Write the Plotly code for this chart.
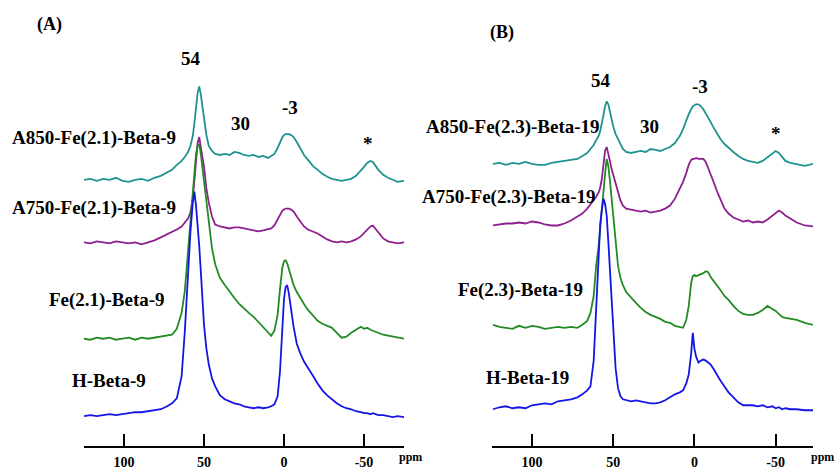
import plotly.graph_objects as go

# ---------------- data (ppm grid and relative intensities) ----------------
ppm_a = [125, 121, 117, 113, 109, 105, 101, 97, 93, 89,
         85, 81, 77, 73, 70, 67, 64, 62, 60, 58.5,
         57, 56, 55, 54, 53, 52, 51, 50, 48.5, 47,
         45, 43, 40, 37, 34, 31, 28, 25, 22, 19,
         16, 13, 10, 8, 6, 4, 2.5, 1, 0, -1,
         -2, -3, -4.5, -6, -8, -10, -12.5, -15, -18, -21,
         -24, -27, -30, -33, -36, -39, -42, -45, -48, -50,
         -52, -54, -55.5, -57, -59, -62, -65, -68, -71, -75]

a850_fe21 = [0, 1, -1, 1, 0, 2, -1, -2, 0, 1,
             -1, 2, 4, 7, 10, 15, 19, 23, 28, 34,
             44, 57, 72, 87, 94, 86, 74, 62, 45, 34,
             29, 26, 25, 26, 25, 28, 27, 25, 24, 25,
             23, 24, 22, 24, 26, 32, 38, 43, 45, 46,
             46, 46, 45, 43, 38, 32, 25, 20, 14, 10,
             6, 3, 1, 0, -1, 0, 1, 4, 9, 13,
             17, 19, 18, 14, 10, 5, 2, 0, -2, -1]

a750_fe21 = [0, -1, 1, 0, -1, 1, 0, -1, 0, -2,
             0, 2, 5, 8, 10, 13, 16, 20, 24, 30,
             45, 62, 82, 100, 106, 96, 86, 76, 54, 40,
             26, 18, 16, 15, 14, 15, 15, 14, 13, 12,
             11, 12, 13, 14, 17, 23, 29, 32, 33, 34,
             34, 34, 33, 31, 26, 21, 16, 13, 11, 9,
             6, 3, 1, 0, 1, 0, 1, 3, 6, 9,
             12, 16, 17, 14, 10, 4, 1, 0, -1, 0]

fe21_beta9 = [0, -1, 1, 0, 1, -1, 0, 1, -1, 1,
              0, 1, 2, 3, 4, 10, 26, 48, 88, 120,
              152, 170, 186, 194, 196, 186, 172, 158, 138, 120,
              91, 75, 61, 54, 47, 41, 35, 30, 26, 22,
              17, 12, 6, 3, 8, 24, 50, 72, 78, 79,
              76, 71, 62, 54, 47, 41, 35, 29, 23, 18,
              15, 13, 11, 6, 1, 2, 6, 9, 12, 10,
              11, 9, 8, 7, 6, 4, 3, 2, 1, 0]

h_beta9 = [0, 1, 0, 1, 2, 1, 2, 3, 4, 4,
           5, 6, 7, 10, 13, 18, 40, 85, 146, 185,
           215, 226, 212, 195, 172, 146, 118, 92, 68, 52,
           38, 30, 21, 17, 15, 13, 12, 10, 9, 8,
           9, 8, 9, 10, 12, 20, 45, 88, 118, 130,
           132, 124, 105, 90, 73, 64, 55, 49, 41, 33,
           26, 21, 17, 13, 10, 8, 7, 5, 4, 3,
           3, 2, 3, 2, 1, 1, 0, -1, 0, -1]

ppm_b = [124, 120, 116, 112, 108, 104, 100, 96, 92, 88,
         84, 80, 76, 72, 69, 66, 64, 62, 60.5, 59,
         58, 57, 56, 55, 54, 53, 52, 51, 50, 48.5,
         47, 45.5, 44, 42, 39, 36, 33, 30, 27, 24,
         21, 18, 15, 12, 9, 7, 5, 3.5, 2, 1,
         0, -1, -2.5, -4, -5.5, -7, -8.5, -10, -12, -14,
         -16, -18.5, -21, -24, -27, -30, -33, -36, -39, -42,
         -45, -48, -50, -52, -54, -56, -59, -63, -68, -73]

a850_fe23 = [0, 1, -1, 1, 0, 2, 0, -1, -1, 1,
             2, 3, 4, 5, 8, 11, 15, 19, 24, 28,
             33, 40, 49, 58, 63, 60, 52, 44, 38, 30,
             25, 19, 15, 12, 11, 12, 13, 12, 15, 14,
             13, 15, 17, 21, 28, 35, 44, 50, 55, 58,
             59, 60, 60, 58, 55, 51, 47, 42, 36, 30,
             25, 20, 16, 12, 8, 5, 3, 2, 1, 3,
             7, 11, 13, 11, 7, 3, 1, 0, -2, 0]

a750_fe23 = [-1, 0, 1, 1, 2, 1, 3, 2, 0, -1,
             -1, 1, 4, 8, 11, 16, 20, 24, 28, 32,
             37, 46, 58, 74, 78, 72, 64, 56, 50, 40,
             32, 24, 19, 16, 15, 14, 13, 14, 12, 13,
             14, 16, 19, 26, 36, 43, 52, 60, 65, 66,
             66, 67, 66, 66, 66, 63, 57, 51, 42, 33,
             25, 16, 11, 7, 5, 3, 4, 2, 3, 2,
             5, 9, 12, 14, 12, 9, 6, 2, -1, -2]

fe23_beta19 = [3, 1, 0, -1, 2, 0, 2, 1, -1, 0,
               1, 0, 1, 0, 3, 7, 15, 32, 62, 82,
               102, 122, 140, 155, 170, 163, 148, 130, 108, 84,
               62, 50, 43, 36, 30, 25, 20, 16, 13, 11,
               9, 6, 5, 2, 1, 0, 8, 22, 45, 52,
               53, 52, 53, 54, 55, 57, 56, 51, 47, 43,
               38, 32, 28, 22, 17, 14, 13, 13, 15, 18,
               22, 19, 17, 14, 11, 10, 9, 8, 5, 3]

h_beta19 = [-1, 1, 2, 0, 1, 0, 3, 4, 5, 4,
            7, 8, 9, 11, 14, 18, 22, 48, 100, 150,
            185, 200, 211, 206, 194, 168, 140, 110, 80, 40,
            20, 12, 9, 8, 7, 8, 7, 6, 5, 5,
            6, 8, 11, 14, 16, 18, 25, 34, 55, 76,
            60, 52, 46, 48, 49, 48, 46, 44, 39, 33,
            28, 22, 16, 11, 6, 3, 3, 3, 2, 3,
            1, 2, 0, 1, -1, 0, -1, -1, -2, -2]

# stacking offsets (vertical position of each trace baseline)
offsets_a = [268, 205, 108, 30]
offsets_b = [284, 223, 119, 38]

names_a = ["A850-Fe(2.1)-Beta-9", "A750-Fe(2.1)-Beta-9", "Fe(2.1)-Beta-9", "H-Beta-9"]
names_b = ["A850-Fe(2.3)-Beta-19", "A750-Fe(2.3)-Beta-19", "Fe(2.3)-Beta-19", "H-Beta-19"]
series_a = [a850_fe21, a750_fe21, fe21_beta9, h_beta9]
series_b = [a850_fe23, a750_fe23, fe23_beta19, h_beta19]

tick_vals = [100, 50, 0, -50]
tick_text = ["100", "50", "0", "-50"]
peak_labels = ["54", "30", "-3", "*"]

colors = ["#1f9390", "#8e1f8e", "#238b23", "#1515e6"]

for s in series_a:
    assert len(s) == len(ppm_a)
for s in series_b:
    assert len(s) == len(ppm_b)

# ---------------- figure ----------------
W, H = 838, 470
PLOT_H = 449
fig = go.Figure()

for name, s, off, c in zip(names_a, series_a, offsets_a, colors):
    fig.add_trace(go.Scatter(x=ppm_a, y=[v + off for v in s], mode="lines", name=name,
                             line=dict(color=c, width=1.8), xaxis="x", yaxis="y",
                             showlegend=False, hoverinfo="skip"))
for name, s, off, c in zip(names_b, series_b, offsets_b, colors):
    fig.add_trace(go.Scatter(x=ppm_b, y=[v + off for v in s], mode="lines", name=name,
                             line=dict(color=c, width=1.8), xaxis="x2", yaxis="y2",
                             showlegend=False, hoverinfo="skip"))

serif = "Liberation Serif, Times New Roman, serif"
xcommon = dict(showline=True, linewidth=2, linecolor="black", ticks="inside",
               ticklen=12, tickwidth=2, tickcolor="black", showgrid=False,
               zeroline=False, tickvals=tick_vals, ticktext=tick_text,
               tickfont=dict(family=serif, size=14, color="black", weight="bold"),
               ticklabelstandoff=2)
ycommon = dict(range=[0, PLOT_H], visible=False, showgrid=False, zeroline=False,
               fixedrange=True)

fig.update_layout(
    width=W, height=H,
    margin=dict(l=0, r=0, t=0, b=H - PLOT_H, pad=0),
    paper_bgcolor="white", plot_bgcolor="white",
    xaxis=dict(domain=[84 / W, 404 / W], range=[125, -75], anchor="y", **xcommon),
    xaxis2=dict(domain=[492 / W, 813 / W], range=[124.6, -73], anchor="y2", **xcommon),
    yaxis=dict(domain=[0, 1], anchor="x", **ycommon),
    yaxis2=dict(domain=[0, 1], anchor="x2", **ycommon),
)


def px(x):
    return x / W


def py(y):
    return (PLOT_H - y) / PLOT_H


def txt(text, x, y, size, xanchor="center"):
    fig.add_annotation(text=text, x=px(x), y=py(y), xref="paper", yref="paper",
                       showarrow=False, xanchor=xanchor, yanchor="middle",
                       font=dict(family=serif, size=size, color="black", weight="bold"))


# panel titles
txt("(A)", 49, 25, 18)
txt("(B)", 502, 33, 18)

# peak labels
for lab, (x, y) in zip(peak_labels, [(191, 59), (241, 124), (290, 108), (368, 144)]):
    txt(lab, x, y, 19)
for lab, (x, y) in zip(peak_labels, [(601, 81), (649, 127), (700, 87), (776, 134)]):
    txt(lab, x, y, 19)

# sample labels
for lab, (x, y) in zip(names_a, [(10, 139), (10, 209), (47, 302), (70, 383)]):
    txt(lab, x, y, 19, "left")
for lab, (x, y) in zip(names_b, [(602, 128), (598, 198), (585, 292), (571, 380)]):
    txt(lab, x, y, 19, "right")

# ppm units
txt("ppm", 410, 460, 12)
txt("ppm", 836, 460, 12, "right")

fig.write_html("out.html", config={"displayModeBar": False},
               post_script="document.body.style.margin='0px';")
